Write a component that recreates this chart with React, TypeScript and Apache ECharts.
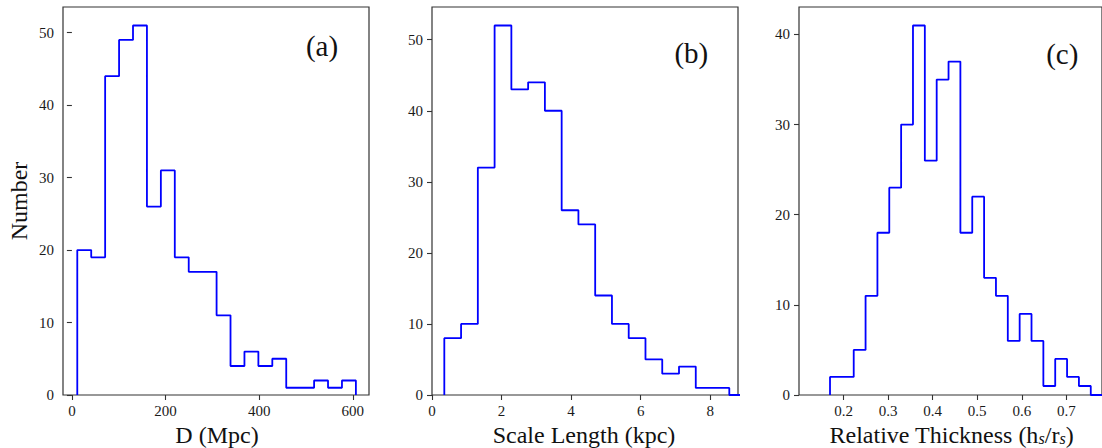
import React, { useEffect, useRef } from "react";
import * as echarts from "echarts";

// Panel (a): distance D (Mpc)
const distCounts = [20, 19, 44, 49, 51, 26, 31, 19, 17, 17, 11, 4, 6, 4, 5, 1, 1, 2, 1, 2];
const distBinStart = 11.5;
const distBinWidth = 29.75;
const distTicks = [0, 200, 400, 600];

// Panel (b): scale length (kpc)
const scaleCounts = [8, 10, 32, 52, 43, 44, 40, 26, 24, 14, 10, 8, 5, 3, 4, 1, 1];
const scaleBinStart = 0.354;
const scaleBinWidth = 0.4821;
const scaleTicks = [0, 2, 4, 6, 8];

// Panel (c): relative thickness hs/rs
const thickCounts = [2, 2, 5, 11, 18, 23, 30, 41, 26, 35, 37, 18, 22, 13, 11, 6, 9, 6, 1, 4, 2, 1];
const thickBinStart = 0.1696;
const thickBinWidth = 0.0266;
const thickTicks = [0.2, 0.3, 0.4, 0.5, 0.6, 0.7];

const countTicksAB = [0, 10, 20, 30, 40, 50];
const countTicksC = [0, 10, 20, 30, 40];

function stepPoints(start: number, width: number, counts: number[], trailingZeroBins: number) {
  const pts: number[][] = [[start, 0]];
  counts.forEach((c, i) => pts.push([start + i * width, c]));
  const end = start + counts.length * width;
  pts.push([end, 0]);
  for (let k = 1; k <= trailingZeroBins; k++) pts.push([end + k * width, 0]);
  return pts;
}

const FONT = "'Liberation Serif', 'DejaVu Serif', serif";

export default function App() {
  const ref = useRef<HTMLDivElement>(null);
  useEffect(() => {
    if (!ref.current) return;
    const chart = echarts.init(ref.current, undefined, { renderer: "svg" });

    const gridBase = {
      top: 7,
      width: 306,
      height: 388,
      show: true,
      borderColor: "#333",
      borderWidth: 1.2,
      backgroundColor: "transparent",
      containLabel: false,
    };

    const labelStyle = { fontFamily: FONT, fontSize: 15, color: "#1a1a1a" };

    const xAxis = (idx: number, min: number, max: number, ticks: number[]) => ({
      type: "value",
      gridIndex: idx,
      min,
      max,
      axisLine: { show: false },
      splitLine: { show: false },
      axisTick: { show: true, length: 5, lineStyle: { color: "#333", width: 1.1 }, customValues: ticks },
      axisLabel: { ...labelStyle, margin: 8, customValues: ticks },
    });
    const yAxis = (idx: number, max: number, ticks: number[]) => ({
      type: "value",
      gridIndex: idx,
      min: 0,
      max,
      axisLine: { show: false },
      splitLine: { show: false },
      axisTick: { show: true, length: 5, lineStyle: { color: "#333", width: 1.1 }, customValues: ticks },
      axisLabel: { ...labelStyle, margin: 9, customValues: ticks },
    });

    const lineSeries = (idx: number, data: number[][]) => ({
      type: "line",
      xAxisIndex: idx,
      yAxisIndex: idx,
      step: "end",
      symbol: "none",
      showSymbol: false,
      clip: true,
      lineStyle: { color: "#0000ff", width: 1.8 },
      data,
    });

    const text = (t: string, x: number, y: number, size: number, extra: any = {}) => ({
      type: "text",
      x,
      y,
      ...extra,
      style: {
        text: t,
        font: `${size}px ${FONT}`,
        fill: "#111",
        align: "center",
        verticalAlign: "middle",
        textAlign: "center",
        textVerticalAlign: "middle",
        ...(extra.style || {}),
      },
    });

    chart.setOption({
      animation: false,
      backgroundColor: "#fff",
      grid: [
        { ...gridBase, left: 63 },
        { ...gridBase, left: 432 },
        { ...gridBase, left: 799 },
      ],
      xAxis: [
        xAxis(0, -19, 634.5, distTicks),
        xAxis(1, 0, 8.8, scaleTicks),
        xAxis(2, 0.1, 0.78, thickTicks),
      ],
      yAxis: [
        yAxis(0, 53.55, countTicksAB),
        yAxis(1, 54.6, countTicksAB),
        yAxis(2, 43.05, countTicksC),
      ],
      series: [
        lineSeries(0, stepPoints(distBinStart, distBinWidth, distCounts, 0)),
        lineSeries(1, stepPoints(scaleBinStart, scaleBinWidth, scaleCounts, 2)),
        lineSeries(2, stepPoints(thickBinStart, thickBinWidth, thickCounts, 3)),
      ],
      graphic: [
        text("Number", 18.5, 201, 24, { rotation: Math.PI / 2 }),
        text("D (Mpc)", 217, 434.5, 24),
        text("Scale Length (kpc)", 584, 434.5, 24),
        {
          type: "text",
          x: 951.5,
          y: 434.5,
          style: {
            text: "Relative Thickness (h{s|s}/r{s|s})",
            font: `24px ${FONT}`,
            fill: "#111",
            align: "center",
            verticalAlign: "middle",
            textAlign: "center",
            textVerticalAlign: "middle",
            rich: {
              s: {
                font: `italic 16px ${FONT}`,
                fontSize: 16,
                fontStyle: "italic",
                fontFamily: FONT,
                verticalAlign: "bottom",
                padding: [6, 0, 0, 0],
              },
            },
          },
        },
        text("(a)", 322, 46, 29),
        text("(b)", 691.3, 52.5, 29),
        text("(c)", 1062.3, 54, 29),
      ],
    });
    return () => chart.dispose();
  }, []);
  return <div ref={ref} style={{ position: "fixed", left: 0, top: 0, width: 1102, height: 448 }} />;
}
